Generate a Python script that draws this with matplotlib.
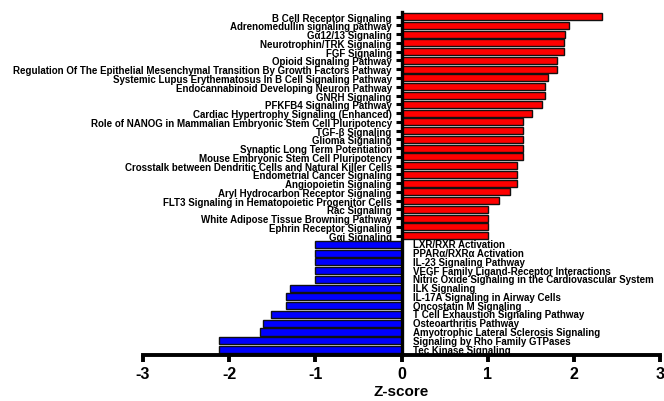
import numpy as np
import matplotlib.pyplot as plt
from matplotlib import transforms

plt.rcParams['font.family'] = ['Liberation Sans', 'DejaVu Sans']
plt.rcParams['font.weight'] = 'bold'

# pathways, top to bottom
pathways = [
    'B Cell Receptor Signaling',
    'Adrenomedullin signaling pathway',
    'Gα12/13 Signaling',
    'Neurotrophin/TRK Signaling',
    'FGF Signaling',
    'Opioid Signaling Pathway',
    'Regulation Of The Epithelial Mesenchymal Transition By Growth Factors Pathway',
    'Systemic Lupus Erythematosus In B Cell Signaling Pathway',
    'Endocannabinoid Developing Neuron Pathway',
    'GNRH Signaling',
    'PFKFB4 Signaling Pathway',
    'Cardiac Hypertrophy Signaling (Enhanced)',
    'Role of NANOG in Mammalian Embryonic Stem Cell Pluripotency',
    'TGF-β Signaling',
    'Glioma Signaling',
    'Synaptic Long Term Potentiation',
    'Mouse Embryonic Stem Cell Pluripotency',
    'Crosstalk between Dendritic Cells and Natural Killer Cells',
    'Endometrial Cancer Signaling',
    'Angiopoietin Signaling',
    'Aryl Hydrocarbon Receptor Signaling',
    'FLT3 Signaling in Hematopoietic Progenitor Cells',
    'Rac Signaling',
    'White Adipose Tissue Browning Pathway',
    'Ephrin Receptor Signaling',
    'Gαi Signaling',
    'LXR/RXR Activation',
    'PPARα/RXRα Activation',
    'IL-23 Signaling Pathway',
    'VEGF Family Ligand-Receptor Interactions',
    'Nitric Oxide Signaling in the Cardiovascular System',
    'ILK Signaling',
    'IL-17A Signaling in Airway Cells',
    'Oncostatin M Signaling',
    'T Cell Exhaustion Signaling Pathway',
    'Osteoarthritis Pathway',
    'Amyotrophic Lateral Sclerosis Signaling',
    'Signaling by Rho Family GTPases',
    'Tec Kinase Signaling',
]
zscores = [
    2.33, 1.94, 1.90, 1.89, 1.89, 1.81, 1.81, 1.70, 1.67, 1.67, 1.63, 1.51, 1.41,
    1.41, 1.41, 1.41, 1.41, 1.34, 1.34, 1.34, 1.26, 1.13, 1.00, 1.00, 1.00, 1.00,
    -1.00, -1.00, -1.00, -1.00, -1.00, -1.29, -1.34, -1.34, -1.51, -1.61, -1.64,
    -2.12, -2.12,
]

n = len(pathways)
y = np.arange(n)
vals = np.array(zscores)
colors = ['#FF0000' if v > 0 else '#0000FF' for v in vals]

fig = plt.figure(figsize=(6.64, 4.02), dpi=100)
ax = fig.add_axes([0.2154, 0.115, 0.7786, 0.853])

ax.barh(y, vals, height=0.8, color=colors, edgecolor='#111111', linewidth=1.0, zorder=2)

ax.set_xlim(-3, 3)
ax.set_ylim(n - 1 + 0.6, -0.55)

# y axis sits at zero
ax.spines['left'].set_position(('data', 0))
ax.spines['left'].set_linewidth(2.4)
ax.spines['left'].set_zorder(3)
ax.spines['bottom'].set_linewidth(2.8)
ax.spines['right'].set_visible(False)
ax.spines['top'].set_visible(False)

ax.set_yticks(y)
ax.set_yticklabels([p if v > 0 else '' for p, v in zip(pathways, vals)], fontsize=7, fontweight='bold')
ax.tick_params(axis='y', length=4, width=2.2, pad=3)

off = transforms.offset_copy(ax.transData, fig=fig, x=8, y=0, units='points')
for yi, p, v in zip(y, pathways, vals):
    if v < 0:
        ax.text(0, yi, p, transform=off, ha='left', va='center', fontsize=7, fontweight='bold')

ax.set_xticks(np.arange(-3, 4, 1))
ax.set_xticklabels([str(t) for t in range(-3, 4)], fontsize=11.5, fontweight='bold')
ax.tick_params(axis='x', length=5, width=2.8, pad=3)
ax.set_xlabel('Z-score', fontsize=11, fontweight='bold', labelpad=2)

fig.savefig('out.png', dpi=100)
